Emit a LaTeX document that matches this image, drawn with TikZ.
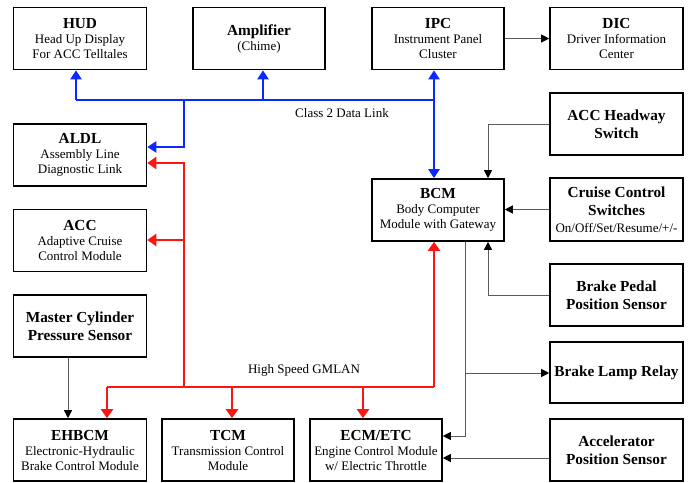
\documentclass[tikz,border=0pt]{standalone}
\usepackage{fontspec}
\setmainfont{Liberation Serif}
\usetikzlibrary{arrows.meta}
\definecolor{busblue}{RGB}{10,40,255}
\definecolor{busred}{RGB}{255,20,20}
\definecolor{thin}{RGB}{90,90,90}
\newcommand{\bxt}[2]{{\fontsize{15.3}{16}\selectfont\bfseries #1}\\[0pt]#2}
\newcommand{\bft}[1]{{\fontsize{15.3}{18}\selectfont\bfseries #1}}
\begin{document}
\begin{tikzpicture}[x=1pt,y=-1pt,
  box/.style={draw, line width=1.6pt, minimum width=133pt, minimum height=62pt, inner sep=1pt, align=center, font=\fontsize{13}{15}\selectfont},
  bbox/.style={box, font=\fontsize{15.3}{18}\selectfont\bfseries},
  bl/.style={draw=busblue, line width=2.6pt, -{Triangle[length=9pt,width=11pt]}},
  blp/.style={draw=busblue, line width=2.6pt},
  rd/.style={draw=busred, line width=2.6pt, -{Triangle[length=9pt,width=12pt]}},
  rdp/.style={draw=busred, line width=2.6pt},
  tn/.style={draw=thin, line width=1pt, -{Triangle[length=8pt,width=8pt,fill=black,color=black]}},
  lbl/.style={font=\fontsize{13}{15}\selectfont, inner sep=0pt}
]
\useasboundingbox (0,0) rectangle (688,482);
% boxes
\node[box] (HUD) at (80,38.5) {\bxt{HUD}{Head Up Display\\For ACC Telltales}};
\node[box, minimum width=132pt] (AMP) at (259,38.5) {\bxt{Amplifier}{(Chime)}};
\node[box, minimum width=132pt] (IPC) at (438,38.5) {\bxt{IPC}{Instrument Panel\\Cluster}};
\node[box] (DIC) at (616.5,38.5) {\bxt{DIC}{Driver Information\\Center}};
\node[box] (ALDL) at (80,155) {\bxt{ALDL}{Assembly Line\\Diagnostic Link}};
\node[box] (ACC) at (80,240.5) {\bxt{ACC}{Adaptive Cruise\\Control Module}};
\node[bbox] (MCPS) at (80,326) {Master Cylinder\\Pressure Sensor};
\node[box] (EHB) at (80,450) {\bxt{EHBCM}{Electronic-Hydraulic\\Brake Control Module}};
\node[box, minimum width=132pt] (TCM) at (228,450) {\bxt{TCM}{Transmission Control\\Module}};
\node[box, minimum width=132pt] (ECM) at (376,450) {\bxt{ECM/ETC}{Engine Control Module\\w/ Electric Throttle}};
\node[box, minimum width=132pt] (BCM) at (438,210) {\bxt{BCM}{Body Computer\\Module with Gateway}};
\node[bbox] (HW) at (616.5,124) {ACC Headway\\Switch};
\node[box, minimum height=63pt] (CCS) at (616.5,209.5) {\bft{Cruise Control}\\[3.5pt]\bft{Switches}\\[1.5pt]On/Off/Set/Resume/+/-};
\node[bbox] (BPP) at (616.5,295) {Brake Pedal\\Position Sensor};
\node[bbox, minimum height=61pt] (BLR) at (616.5,372.5) {Brake Lamp Relay};
\node[bbox] (APS) at (616.5,450) {Accelerator\\Position Sensor};
% labels
\node[lbl] (cl2) at (342,113) {Class 2 Data Link};
\node[lbl] (hs) at (304,370.5) {High Speed GMLAN};
% blue bus
\coordinate (bR) at (434,100);
\coordinate (bH) at (76,100);
\coordinate (bA) at (263,100);
\coordinate (bL) at (184,100);
\coordinate (bL2) at (184,147);
\draw[blp] (bH) -- (bR);
\draw[bl] (bH) -- (bH |- HUD.south);
\draw[bl] (bA) -- (bA |- AMP.south);
\draw[bl] (bR) -- (bR |- IPC.south);
\draw[bl] (bR) -- (bR |- BCM.north);
\draw[bl] (bL) -- (bL2) -- (bL2 -| ALDL.east);
% red bus
\coordinate (rL) at (107,387);
\coordinate (rT) at (232,387);
\coordinate (rE) at (363,387);
\coordinate (rR) at (434,387);
\coordinate (rC) at (184,387);
\coordinate (rA1) at (184,163);
\coordinate (rA2) at (184,240);
\draw[rdp] (rL) -- (rR);
\draw[rd] (rC) -- (rA1) -- (rA1 -| ALDL.east);
\draw[rd] (rA2) -- (rA2 -| ACC.east);
\draw[rd] (rL) -- (rL |- EHB.north);
\draw[rd] (rT) -- (rT |- TCM.north);
\draw[rd] (rE) -- (rE |- ECM.north);
\draw[rd] (rR) -- (rR |- BCM.south);
% thin lines
\draw[tn] (IPC.east) -- (DIC.west);
\coordinate (m1) at (68,357);
\draw[tn] (m1 |- MCPS.south) -- (m1 |- EHB.north);
\coordinate (g0) at (465,241);
\coordinate (g1) at (465,436);
\coordinate (g2) at (465,373);
\draw[tn] (g0 |- BCM.south) -- (g1) -- (g1 -| ECM.east);
\draw[tn] (g2) -- (g2 -| BLR.west);
\coordinate (a1) at (550,458);
\draw[tn] (a1 -| APS.west) -- (a1 -| ECM.east);
\coordinate (h1) at (488,124);
\draw[tn] (h1 -| HW.west) -- (h1) -- (h1 |- BCM.north);
\draw[tn] (CCS.west) -- (CCS.west -| BCM.east);
\coordinate (p1) at (488,295);
\draw[tn] (p1 -| BPP.west) -- (p1) -- (p1 |- BCM.south);
\end{tikzpicture}
\end{document}
